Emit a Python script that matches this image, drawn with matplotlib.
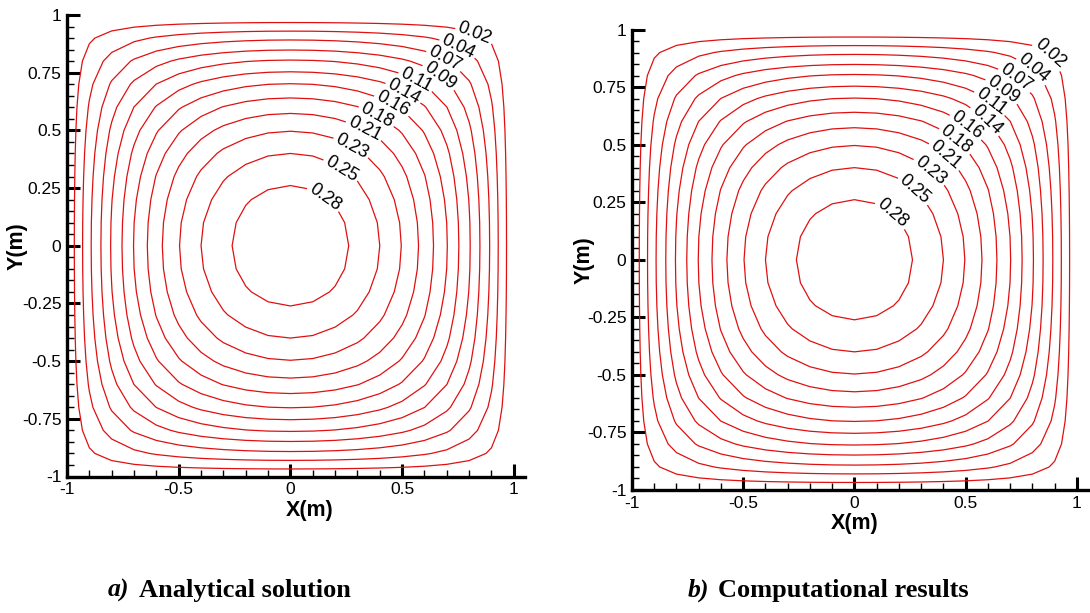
import numpy as np
import matplotlib
matplotlib.use("Agg")
import matplotlib.pyplot as plt
from matplotlib.ticker import MultipleLocator

# field values (x1e-4) on one quadrant, rows y = 0, 0.1 .. 1, columns x = 0, 0.1 .. 1
quad_vals = [
    [2947, 2922, 2846, 2718, 2535, 2293, 1988, 1613, 1162, 627, 0],
    [2922, 2897, 2822, 2696, 2515, 2275, 1973, 1601, 1154, 623, 0],
    [2846, 2822, 2750, 2627, 2452, 2220, 1926, 1565, 1129, 610, 0],
    [2718, 2696, 2627, 2512, 2346, 2126, 1847, 1503, 1086, 588, 0],
    [2535, 2515, 2452, 2346, 2194, 1991, 1734, 1414, 1025, 557, 0],
    [2293, 2275, 2220, 2126, 1991, 1811, 1581, 1295, 943, 515, 0],
    [1988, 1973, 1926, 1847, 1734, 1581, 1386, 1140, 835, 460, 0],
    [1613, 1601, 1565, 1503, 1414, 1295, 1140, 944, 698, 389, 0],
    [1162, 1154, 1129, 1086, 1025, 943, 835, 698, 523, 297, 0],
    [627, 623, 610, 588, 557, 515, 460, 389, 297, 175, 0],
    [0, 0, 0, 0, 0, 0, 0, 0, 0, 0, 0],
]
grid_x = [-1.0, -0.9, -0.8, -0.7, -0.6, -0.5, -0.4, -0.3, -0.2, -0.1, 0.0,
          0.1, 0.2, 0.3, 0.4, 0.5, 0.6, 0.7, 0.8, 0.9, 1.0]

levels = [0.0205, 0.0438, 0.0671, 0.0904, 0.1137, 0.1370, 0.1603, 0.1836, 0.2069, 0.2302, 0.2535, 0.2768]
labels = ["0.02", "0.04", "0.07", "0.09", "0.11", "0.14", "0.16", "0.18", "0.21", "0.23", "0.25", "0.28"]

# where the contour labels sit in each panel
pos_a = [(0.828, 0.928), (0.751, 0.862), (0.691, 0.808), (0.669, 0.735), (0.564, 0.718), (0.512, 0.675),
         (0.452, 0.603), (0.385, 0.559), (0.326, 0.494), (0.274, 0.429), (0.229, 0.335), (0.156, 0.213)]
pos_b = [(0.899, 0.913), (0.817, 0.841), (0.749, 0.812), (0.682, 0.761), (0.637, 0.710), (0.615, 0.638),
         (0.532, 0.609), (0.472, 0.543), (0.420, 0.464), (0.367, 0.413), (0.285, 0.326), (0.180, 0.217)]

plt.rcParams['font.family'] = ['Liberation Sans', 'DejaVu Sans']

quad = np.array(quad_vals, dtype=float) * 1e-4
full = np.concatenate([quad[:, :0:-1], quad], axis=1)
full = np.concatenate([full[:0:-1, :], full], axis=0)

fig = plt.figure(figsize=(10.9, 6.13), dpi=100)
ax_a = fig.add_axes([67 / 1090, 136.5 / 613, 458 / 1090, 461.5 / 613])
ax_b = fig.add_axes([632 / 1090, 123 / 613, 456 / 1090, 460.5 / 613])

for ax, pos in ((ax_a, pos_a), (ax_b, pos_b)):
    cs = ax.contour(grid_x, grid_x, full, levels=levels, colors='#e01010', linewidths=0.9)
    ax.clabel(cs, fmt=dict(zip(levels, labels)), manual=pos, inline=True,
              inline_spacing=3, fontsize=13, colors='black')
    ax.set_xlim(-1, 1.05)
    ax.set_ylim(-1, 1)
    for s in ('top', 'right'):
        ax.spines[s].set_visible(False)
    for s in ('left', 'bottom'):
        ax.spines[s].set_linewidth(2.4)
    ax.xaxis.set_major_locator(MultipleLocator(0.5))
    ax.xaxis.set_minor_locator(MultipleLocator(0.1))
    ax.yaxis.set_major_locator(MultipleLocator(0.25))
    ax.yaxis.set_minor_locator(MultipleLocator(0.05))
    ax.xaxis.set_major_formatter(lambda v, p: f"{v:g}")
    ax.yaxis.set_major_formatter(lambda v, p: f"{v:g}")
    ax.tick_params(which='major', direction='in', length=9.5, width=2.2, labelsize=12.5, pad=4)
    ax.tick_params(which='minor', direction='in', length=5, width=1.0)
    ax.set_xlabel("X(m)", fontsize=15.5, fontweight='bold')
    ax.set_ylabel("Y(m)", fontsize=15.5, fontweight='bold')

ax_a.xaxis.set_label_coords((310 - 67) / 458, -0.052)
ax_a.yaxis.set_label_coords(-0.086, 0.5)
ax_b.xaxis.set_label_coords((855 - 632) / 456, -0.05)
ax_b.yaxis.set_label_coords(-0.083, 0.5)

serif = ['Liberation Serif', 'DejaVu Serif']
fig.text(108 / 1090, 16 / 613, "a)", family=serif, fontsize=18.5, fontweight='bold', style='italic')
fig.text(139 / 1090, 16 / 613, "Analytical solution", family=serif, fontsize=19, fontweight='bold')
fig.text(688 / 1090, 16 / 613, "b)", family=serif, fontsize=18.5, fontweight='bold', style='italic')
fig.text(718 / 1090, 16 / 613, "Computational results", family=serif, fontsize=19, fontweight='bold')

fig.savefig("out.png", dpi=100)
